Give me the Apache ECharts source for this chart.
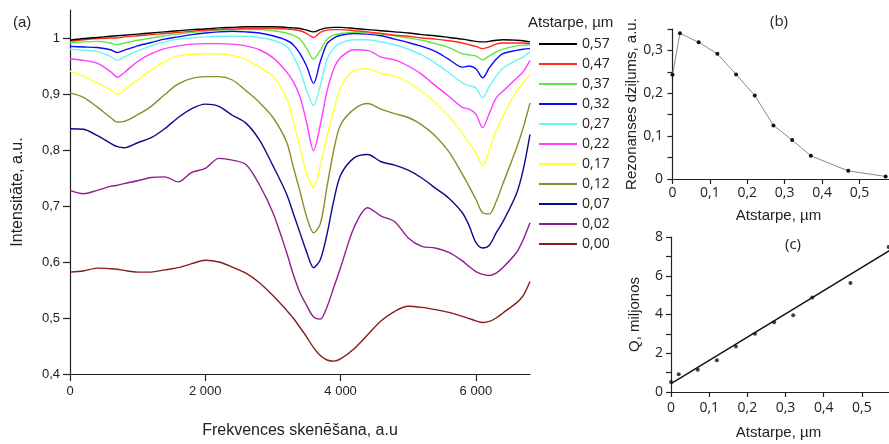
<!DOCTYPE html>
<html>
<head>
<meta charset="utf-8">
<script src="https://cdn.jsdelivr.net/npm/echarts/dist/echarts.min.js"></script>
<style>html,body{margin:0;padding:0;background:#fff;}#c{width:889px;height:444px;}</style>
</head>
<body>
<div id="c"></div>
<script>
// ---------- Panel (a) data ----------
const freqX = [0,200,400,600,700,800,1000,1200,1400,1600,1800,2000,2200,2400,2600,2800,3000,3200,3300,3400,3500,3600,3700,3800,3900,4000,4200,4400,4600,4800,5000,5200,5400,5600,5800,5900,6000,6100,6200,6300,6400,6600,6700,6800];
const gap057 = [0.996,0.999,1.001,1.003,1.004,1.005,1.007,1.009,1.011,1.013,1.015,1.016,1.018,1.019,1.020,1.020,1.020,1.019,1.018,1.017,1.014,1.011,1.015,1.018,1.019,1.019,1.017,1.015,1.013,1.011,1.009,1.006,1.004,1.001,0.998,0.996,0.994,0.993,0.994,0.996,0.997,0.996,0.995,0.993];
const gap047 = [0.994,0.997,0.999,1.000,1.000,1.002,1.004,1.006,1.008,1.010,1.012,1.014,1.015,1.016,1.017,1.017,1.017,1.016,1.015,1.013,1.008,1.001,1.010,1.014,1.015,1.015,1.013,1.011,1.008,1.005,1.003,1.000,0.998,0.995,0.991,0.988,0.985,0.981,0.984,0.989,0.991,0.991,0.991,0.990];
const gap037 = [0.991,0.993,0.994,0.991,0.988,0.991,0.996,1.000,1.004,1.007,1.010,1.012,1.014,1.015,1.015,1.015,1.013,1.009,1.005,0.998,0.981,0.962,0.978,0.998,1.005,1.008,1.010,1.009,1.007,1.004,1.000,0.996,0.990,0.983,0.972,0.970,0.968,0.961,0.968,0.975,0.980,0.986,0.987,0.988];
const gap032 = [0.985,0.984,0.983,0.979,0.974,0.978,0.986,0.992,0.998,1.002,1.006,1.009,1.011,1.012,1.011,1.009,1.004,0.996,0.988,0.972,0.949,0.919,0.958,0.990,1.000,1.005,1.008,1.007,1.004,0.998,0.992,0.985,0.976,0.962,0.948,0.950,0.945,0.929,0.947,0.962,0.972,0.978,0.980,0.981];
const gap027 = [0.980,0.978,0.976,0.967,0.960,0.966,0.977,0.986,0.993,0.998,1.000,1.002,1.003,1.003,1.003,1.001,0.996,0.985,0.968,0.942,0.906,0.879,0.915,0.962,0.982,0.991,0.997,0.997,0.993,0.988,0.980,0.970,0.955,0.938,0.920,0.915,0.911,0.893,0.914,0.932,0.946,0.960,0.966,0.975];
const gap022 = [0.963,0.960,0.955,0.940,0.930,0.938,0.958,0.972,0.981,0.986,0.989,0.990,0.990,0.989,0.986,0.979,0.965,0.940,0.922,0.895,0.848,0.799,0.845,0.905,0.945,0.965,0.979,0.978,0.966,0.961,0.950,0.935,0.915,0.896,0.876,0.873,0.864,0.840,0.866,0.893,0.905,0.928,0.940,0.960];
const gap017 = [0.941,0.932,0.920,0.908,0.899,0.907,0.925,0.943,0.958,0.968,0.971,0.972,0.972,0.969,0.962,0.948,0.932,0.893,0.852,0.805,0.757,0.733,0.772,0.826,0.870,0.912,0.942,0.945,0.937,0.932,0.921,0.905,0.885,0.860,0.830,0.812,0.795,0.772,0.800,0.835,0.860,0.905,0.920,0.935];
const gap012 = [0.902,0.894,0.877,0.858,0.850,0.851,0.863,0.878,0.899,0.918,0.928,0.931,0.931,0.925,0.906,0.885,0.858,0.815,0.770,0.726,0.680,0.652,0.668,0.735,0.800,0.845,0.873,0.883,0.873,0.865,0.858,0.845,0.825,0.797,0.757,0.735,0.712,0.688,0.686,0.708,0.740,0.803,0.840,0.884];
const gap007 = [0.838,0.837,0.826,0.812,0.806,0.804,0.813,0.822,0.838,0.858,0.874,0.882,0.878,0.862,0.848,0.818,0.772,0.722,0.687,0.652,0.617,0.590,0.604,0.650,0.710,0.755,0.786,0.792,0.779,0.773,0.764,0.750,0.732,0.714,0.688,0.665,0.635,0.625,0.630,0.652,0.672,0.722,0.765,0.828];
const gap002 = [0.728,0.722,0.728,0.735,0.737,0.740,0.745,0.751,0.752,0.743,0.760,0.767,0.785,0.782,0.774,0.738,0.688,0.618,0.578,0.545,0.522,0.502,0.498,0.520,0.555,0.590,0.662,0.697,0.682,0.672,0.643,0.628,0.625,0.617,0.602,0.592,0.583,0.578,0.576,0.580,0.590,0.617,0.640,0.670];
const gap000 = [0.582,0.584,0.589,0.588,0.587,0.585,0.582,0.582,0.586,0.590,0.597,0.603,0.600,0.591,0.580,0.563,0.540,0.514,0.500,0.483,0.466,0.447,0.433,0.425,0.423,0.427,0.445,0.470,0.495,0.512,0.521,0.519,0.515,0.510,0.503,0.499,0.495,0.492,0.494,0.500,0.509,0.527,0.540,0.565];
const gapNames = ['0,57','0,47','0,37','0,32','0,27','0,22','0,17','0,12','0,07','0,02','0,00'];
const gapSeries = [gap057,gap047,gap037,gap032,gap027,gap022,gap017,gap012,gap007,gap002,gap000];
const freqTicks = [0,2000,4000,6000];
const intTicks = [0.4,0.5,0.6,0.7,0.8,0.9,1.0];

// ---------- Panels (b), (c) data ----------
const gapUm = [0,0.02,0.07,0.12,0.17,0.22,0.27,0.32,0.37,0.47,0.57];
const depth = [0.243,0.340,0.319,0.292,0.244,0.195,0.125,0.091,0.054,0.019,0.006];
const qMil = [0.51,0.92,1.15,1.64,2.35,3.01,3.60,3.96,4.88,5.63,7.48];
const fitX = [0,0.58];
const fitY = [0.43,7.39];
const gapTicks = [0,0.1,0.2,0.3,0.4,0.5];

const lineColors = ['#000000','#ff2a1a','#5fe84a','#0a0aff','#6af5f5','#ff3cff','#ffff33','#8c8c2a','#0b0b8a','#8e1e8e','#8b1c1c'];

const dec = v => (Math.round(v*100)/100).toString().replace('.', ',');
const sansA = 'Liberation Sans';
const sansB = 'Open Sans';

const seriesA = [];
for (let i = gapSeries.length - 1; i >= 0; i--) {
  seriesA.push({
    name: gapNames[i], type: 'line', xAxisIndex: 0, yAxisIndex: 0,
    data: freqX.map((x, k) => [x, gapSeries[i][k]]),
    symbol: 'none', smooth: 0.3,
    lineStyle: { color: lineColors[i], width: 1.4 },
    itemStyle: { color: lineColors[i] }
  });
}

const axisLineStyle = { lineStyle: { color: '#222', width: 1.2 } };
const tickStyle = { lineStyle: { color: '#222', width: 1.2 } };

const option = {
  animation: false,
  backgroundColor: '#fff',
  title: [
    { text: '(a)', left: 8, top: 10, textStyle: { fontFamily: sansA, fontSize: 15, fontWeight: 'normal', color: '#222' } },
    { text: 'Atstarpe, µm', left: 523, top: 10, textStyle: { fontFamily: sansA, fontSize: 15, fontWeight: 'normal', color: '#222' } },
    { text: '(b)', left: 765, top: 9, textStyle: { fontFamily: sansB, fontSize: 15, fontWeight: 'normal', color: '#222' } },
    { text: '(c)', left: 780, top: 232, textStyle: { fontFamily: sansB, fontSize: 15, fontWeight: 'normal', color: '#222' } }
  ],
  legend: {
    data: gapNames, orient: 'vertical', left: 538, top: 37,
    itemWidth: 38, itemHeight: 14, itemGap: 6, padding: 0,
    itemStyle: { opacity: 0 },
    lineStyle: { width: 2 },
    textStyle: { fontFamily: sansB, fontSize: 14, color: '#222' },
    selectedMode: false
  },
  grid: [
    { left: 70, right: 359, top: 10, bottom: 66 },
    { left: 668, right: 0, top: 29, bottom: 265 },
    { left: 668, right: 0, top: 237, bottom: 52 }
  ],
  xAxis: [
    { type: 'value', gridIndex: 0, min: 0, max: 6800,
      name: 'Frekvences skenēšana, a.u', nameLocation: 'middle', nameGap: 49,
      nameTextStyle: { fontFamily: sansA, fontSize: 16, color: '#222' },
      axisLine: axisLineStyle, splitLine: { show: false },
      axisTick: { customValues: freqTicks, length: 7, inside: false, lineStyle: tickStyle.lineStyle },
      axisLabel: { customValues: freqTicks, fontFamily: sansA, fontSize: 13, color: '#222', margin: 11,
        formatter: v => v === 0 ? '0' : (v/1000) + ' 000' } },
    { type: 'value', gridIndex: 1, min: -0.012, max: 0.579,
      name: 'Atstarpe, µm', nameLocation: 'middle', nameGap: 29,
      nameTextStyle: { fontFamily: sansA, fontSize: 15, color: '#222' },
      axisLine: axisLineStyle, splitLine: { show: false },
      axisTick: { customValues: gapTicks, length: 5, lineStyle: tickStyle.lineStyle },
      axisLabel: { customValues: gapTicks, fontFamily: sansB, fontSize: 14, color: '#222', margin: 7, formatter: dec } },
    { type: 'value', gridIndex: 2, min: -0.008, max: 0.571,
      name: 'Atstarpe, µm', nameLocation: 'middle', nameGap: 33,
      nameTextStyle: { fontFamily: sansA, fontSize: 15, color: '#222' },
      axisLine: axisLineStyle, splitLine: { show: false },
      axisTick: { customValues: gapTicks, length: 5, lineStyle: tickStyle.lineStyle },
      axisLabel: { customValues: gapTicks, fontFamily: sansB, fontSize: 14, color: '#222', margin: 9, formatter: dec } }
  ],
  yAxis: [
    { type: 'value', gridIndex: 0, min: 0.4, max: 1.05,
      name: 'Intensitāte, a.u.', nameLocation: 'middle', nameGap: 44,
      nameTextStyle: { fontFamily: sansA, fontSize: 16, color: '#222' },
      axisLine: { show: true, lineStyle: axisLineStyle.lineStyle }, splitLine: { show: false },
      axisTick: { show: true, customValues: intTicks, length: 7, lineStyle: tickStyle.lineStyle },
      axisLabel: { customValues: intTicks, fontFamily: sansA, fontSize: 13, color: '#222', margin: 10,
        formatter: v => Math.abs(v-1) < 1e-9 ? '1' : v.toFixed(1).replace('.', ',') } },
    { type: 'value', gridIndex: 1, min: 0, max: 0.35, interval: 0.05,
      name: 'Rezonanses dziļums, a.u.', nameLocation: 'middle', nameGap: 26,
      nameTextStyle: { fontFamily: sansA, fontSize: 15, color: '#222' },
      axisLine: { show: true, lineStyle: axisLineStyle.lineStyle }, splitLine: { show: false },
      axisTick: { show: true, length: 5, lineStyle: tickStyle.lineStyle },
      axisLabel: { fontFamily: sansB, fontSize: 14, color: '#222', margin: 5,
        formatter: v => Math.abs(v*10 - Math.round(v*10)) < 1e-6 ? dec(v) : '' } },
    { type: 'value', gridIndex: 2, min: 0, max: 8, interval: 1,
      name: 'Q, miljonos', nameLocation: 'middle', nameGap: 26,
      nameTextStyle: { fontFamily: sansA, fontSize: 15, color: '#222' },
      axisLine: { show: true, lineStyle: axisLineStyle.lineStyle }, splitLine: { show: false },
      axisTick: { show: true, length: 5, lineStyle: tickStyle.lineStyle },
      axisLabel: { fontFamily: sansB, fontSize: 14, color: '#222', margin: 5,
        formatter: v => (Math.round(v) % 2 === 0) ? String(v) : '' } }
  ],
  series: seriesA.concat([
    { type: 'line', xAxisIndex: 1, yAxisIndex: 1,
      data: gapUm.map((x, k) => [x, depth[k]]),
      symbol: 'circle', symbolSize: 4,
      lineStyle: { color: '#8a8a8a', width: 1 }, itemStyle: { color: '#111' } },
    { type: 'line', xAxisIndex: 2, yAxisIndex: 2,
      data: fitX.map((x, k) => [x, fitY[k]]),
      symbol: 'none', lineStyle: { color: '#111', width: 1.4 } },
    { type: 'scatter', xAxisIndex: 2, yAxisIndex: 2,
      data: gapUm.map((x, k) => [x, qMil[k]]),
      symbolSize: 4, itemStyle: { color: '#111' } }
  ])
};

const chart = echarts.init(document.getElementById('c'), null, { renderer: 'canvas' });
chart.setOption(option);
</script>
</body>
</html>
